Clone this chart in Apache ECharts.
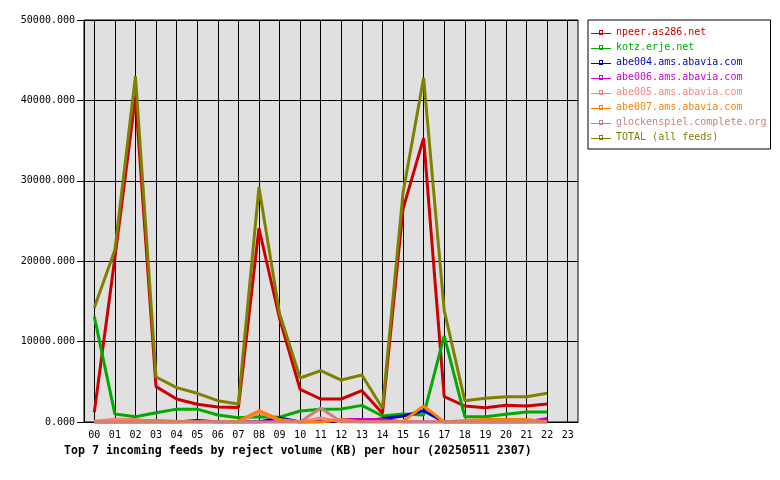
<!DOCTYPE html>
<html>
<head>
<meta charset="utf-8">
<script src="https://cdn.jsdelivr.net/npm/echarts@6/dist/echarts.min.js"></script>
<style>html,body{margin:0;padding:0;background:#fff}#c{width:780px;height:480px}</style>
</head>
<body>
<div id="c"></div>
<script>
var hours = ['00','01','02','03','04','05','06','07','08','09','10','11','12','13','14','15','16','17','18','19','20','21','22','23'];
var yTicks = [0, 10000, 20000, 30000, 40000, 50000];
var titleText = 'Top 7 incoming feeds by reject volume (KB) per hour (20250511 2307)';

var npeer = [1200, 20400, 40500, 4400, 2860, 2200, 1870, 1800, 24100, 12900, 4070, 2860, 2860, 3900, 1080, 26500, 35300, 3150, 1990, 1780, 2080, 1990, 2240];
var kotz = [13100, 1000, 660, 1160, 1600, 1600, 870, 540, 660, 600, 1370, 1580, 1620, 2070, 750, 1000, 870, 10700, 660, 660, 960, 1240, 1240];
var abe004 = [0, 0, 0, 0, 0, 200, 0, 0, 0, 500, 0, 100, 200, 100, 400, 750, 1400, 0, 0, 0, 0, 0, 0];
var abe006 = [0, 0, 0, 0, 0, 0, 0, 0, 0, 0, 0, 0, 300, 300, 300, 0, 0, 0, 0, 0, 0, 0, 450];
var abe005 = [100, 350, 300, 0, 0, 0, 0, 0, 1200, 200, 0, 500, 0, 0, 0, 0, 0, 0, 0, 0, 0, 0, 0];
var abe007 = [0, 0, 200, 200, 100, 0, 0, 100, 1400, 300, 0, 0, 300, 0, 0, 100, 2000, 0, 200, 300, 300, 300, 0];
var glocken = [0, 0, 0, 0, 0, 0, 0, 0, 0, 0, 0, 1750, 0, 0, 0, 0, 0, 0, 0, 0, 0, 0, 0];
var total = [14200, 21400, 43000, 5600, 4270, 3570, 2650, 2240, 29200, 13500, 5470, 6390, 5220, 5850, 1700, 28500, 42800, 13900, 2650, 2950, 3150, 3150, 3570];

var seriesDefs = [
  {name: 'npeer.as286.net', color: '#cc0000', data: npeer},
  {name: 'kotz.erje.net', color: '#00aa00', data: kotz},
  {name: 'abe004.ams.abavia.com', color: '#0000cc', data: abe004},
  {name: 'abe006.ams.abavia.com', color: '#cc00cc', data: abe006},
  {name: 'abe005.ams.abavia.com', color: '#ff8080', data: abe005},
  {name: 'abe007.ams.abavia.com', color: '#ff8000', data: abe007},
  {name: 'glockenspiel.complete.org', color: '#cc8080', data: glocken},
  {name: 'TOTAL (all feeds)', color: '#808000', data: total}
];

var mono = 'DejaVu Sans Mono';
var iconPath = 'path://M0,3H8V0H12V3H20V4H12V5H8V4H0Z M9,1V3H11V1Z';

var chart = echarts.init(document.getElementById('c'), null, {renderer: 'canvas'});
chart.setOption({
  animation: false,
  backgroundColor: '#ffffff',
  title: {
    text: titleText,
    left: 64, top: 445, padding: 0,
    textStyle: {fontFamily: mono, fontSize: 11.6, fontWeight: 'bold', color: '#000'}
  },
  grid: {
    left: 84, top: 20, right: 202, bottom: 58,
    show: true, backgroundColor: '#e0e0e0', borderColor: '#000', borderWidth: 1,
    containLabel: false
  },
  legend: {
    orient: 'vertical',
    left: 588, top: 20,
    padding: [5, 4, 4, 3],
    backgroundColor: '#fff', borderColor: '#000', borderWidth: 1, borderRadius: 0,
    itemWidth: 20, itemHeight: 5, itemGap: 0,
    textStyle: {fontFamily: mono, fontSize: 10, lineHeight: 15},
    data: seriesDefs.map(function (s) {
      return {name: s.name, icon: iconPath, itemStyle: {color: s.color}, textStyle: {color: s.color}};
    })
  },
  xAxis: {
    type: 'category',
    data: hours,
    boundaryGap: true,
    axisLine: {show: true, lineStyle: {color: '#000', width: 1}},
    axisTick: {show: false},
    axisLabel: {interval: 0, margin: 8, fontFamily: mono, fontSize: 10, color: '#000'},
    splitLine: {show: true, alignWithLabel: true, interval: 0, lineStyle: {color: '#000', width: 1}}
  },
  yAxis: {
    type: 'value',
    min: yTicks[0], max: yTicks[yTicks.length - 1], interval: 10000,
    axisLine: {show: true, lineStyle: {color: '#000', width: 1}},
    axisTick: {show: true, length: 7, lineStyle: {color: '#000'}},
    axisLabel: {margin: 9, fontFamily: mono, fontSize: 10, color: '#000',
      formatter: function (v) { return v.toFixed(3); }},
    splitLine: {show: true, lineStyle: {color: '#000', width: 1}}
  },
  series: seriesDefs.map(function (s) {
    return {
      name: s.name, type: 'line', data: s.data,
      symbol: 'none', smooth: false,
      lineStyle: {color: s.color, width: 3},
      itemStyle: {color: s.color}
    };
  })
});
</script>
</body>
</html>
